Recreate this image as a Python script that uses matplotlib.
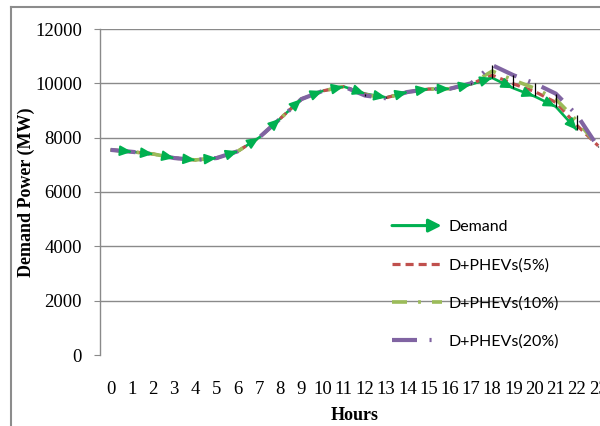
import numpy as np
import matplotlib
matplotlib.use("Agg")
import matplotlib.pyplot as plt
from matplotlib.lines import Line2D
from matplotlib.patches import FancyArrowPatch
from matplotlib.legend_handler import HandlerBase

plt.rcParams['lines.scale_dashes'] = False

hours = list(range(24))
demand = [7550, 7480, 7400, 7250, 7180, 7250, 7500, 8000, 8700, 9420, 9720, 9880,
          9620, 9480, 9680, 9790, 9800, 9960, 10200, 9820, 9520, 9140, 8280, np.nan]
phev5 = [7550, 7480, 7400, 7250, 7180, 7250, 7500, 8000, 8700, 9420, 9720, 9880,
         9600, 9470, 9680, 9790, 9800, 9980, 10300, 9980, 9700, 9300, 8450, 7700]
phev10 = [7550, 7480, 7400, 7250, 7180, 7250, 7500, 8000, 8700, 9420, 9720, 9880,
          9580, 9460, 9680, 9790, 9800, 9990, 10450, 10120, 9820, 9420, 8620, 7680]
phev20 = [7550, 7480, 7400, 7250, 7180, 7250, 7500, 8000, 8700, 9420, 9720, 9880,
          9550, 9450, 9680, 9790, 9800, 10000, 10670, 10300, 10000, 9620, 8830, 7650]
labels = ["Demand", "D+PHEVs(5%)", "D+PHEVs(10%)", "D+PHEVs(20%)"]

GREEN, RED, OLIVE, PURPLE = "#00B050", "#C0504D", "#9BBB59", "#8064A2"
GRID = "#8a8a8a"
SERIF = "Liberation Serif"
HEAD = "-|>,head_length=0.5,head_width=0.22"


class ArrowHandler(HandlerBase):
    def create_artists(self, legend, orig, xd, yd, w, h, fontsize, trans):
        y = (h - yd) / 2
        a = FancyArrowPatch((-xd, y), (-xd + w, y), transform=trans,
                            arrowstyle="-|>,head_length=0.55,head_width=0.28",
                            mutation_scale=14, lw=2.2, color=GREEN,
                            shrinkA=0, shrinkB=0)
        return [a]


fig = plt.figure(figsize=(6, 4.26), dpi=100, facecolor="white")
ax = fig.add_axes([100 / 600, 71 / 426, 508.8 / 600, 326 / 426])
ax.set_xlim(-0.5, 23.5)
ax.set_ylim(0, 12000)

h = np.array(hours)
d = np.array(demand, dtype=float)
ax.plot(h, d, color=GREEN, lw=1.9, zorder=2, solid_capstyle="butt")
l5, = ax.plot(h, phev5, color=RED, lw=2.3, dashes=(5.8, 3.6), zorder=3)
l10, = ax.plot(h, phev10, color=OLIVE, lw=2.6, dashes=(10.8, 8, 2, 8), zorder=4)
l20, = ax.plot(h, phev20, color=PURPLE, lw=3.0, dashes=(18, 9, 1.5, 9), zorder=5)

# arrowheads at the end of each Demand segment
for i in range(1, len(h)):
    if np.isnan(d[i]) or np.isnan(d[i - 1]):
        continue
    x0 = h[i - 1] + 0.9 * (h[i] - h[i - 1])
    y0 = d[i - 1] + 0.9 * (d[i] - d[i - 1])
    ax.annotate("", xy=(h[i], d[i]), xytext=(x0, y0), zorder=7,
                arrowprops=dict(arrowstyle=HEAD, mutation_scale=14, lw=1.4,
                                color=GREEN, shrinkA=0, shrinkB=0))

# high-low lines
allv = np.array([demand, phev5, phev10, phev20], dtype=float)
ax.vlines(h, np.nanmin(allv, axis=0), np.nanmax(allv, axis=0),
          color="black", lw=0.9, zorder=6)

ax.set_yticks(range(0, 12001, 2000))
ax.set_xticks(hours)
ax.grid(axis="y", color=GRID, lw=1.0)
ax.yaxis.get_gridlines()[0].set_visible(False)
ax.set_axisbelow(True)
for sp in ("top", "right", "bottom"):
    ax.spines[sp].set_visible(False)
ax.spines["left"].set_color(GRID)
ax.spines["left"].set_linewidth(1.0)
ax.tick_params(axis="y", length=4, color=GRID, pad=9, labelsize=13.5)
ax.tick_params(axis="x", length=0, pad=19, labelsize=13.5)
for t in ax.get_xticklabels() + ax.get_yticklabels():
    t.set_fontfamily(SERIF)
ax.set_xlabel("Hours", fontfamily=SERIF, fontweight="bold", fontsize=13, labelpad=6)
ax.set_ylabel("Demand Power (MW)", fontfamily=SERIF, fontweight="bold", fontsize=13,
              labelpad=0)

dem_handle = Line2D([], [], color=GREEN)
ax.legend([dem_handle, l5, l10, l20], labels, handler_map={dem_handle: ArrowHandler()},
          loc="upper left", bbox_to_anchor=(392 / 600, 1 - 220 / 426),
          bbox_transform=fig.transFigure, frameon=False, borderpad=0,
          borderaxespad=0, handlelength=3.1, handletextpad=0.45,
          labelspacing=1.5, prop={"family": "Lato", "size": 11.5})

# outer chart border (left and top edges visible)
fig.add_artist(Line2D([11 / 600, 11 / 600], [0, 1 - 7 / 426], transform=fig.transFigure,
                      color="#8c8c8c", lw=1.5))
fig.add_artist(Line2D([11 / 600, 1], [1 - 7 / 426, 1 - 7 / 426], transform=fig.transFigure,
                      color="#8c8c8c", lw=1.5))

fig.savefig("out.png", dpi=100, facecolor="white")
